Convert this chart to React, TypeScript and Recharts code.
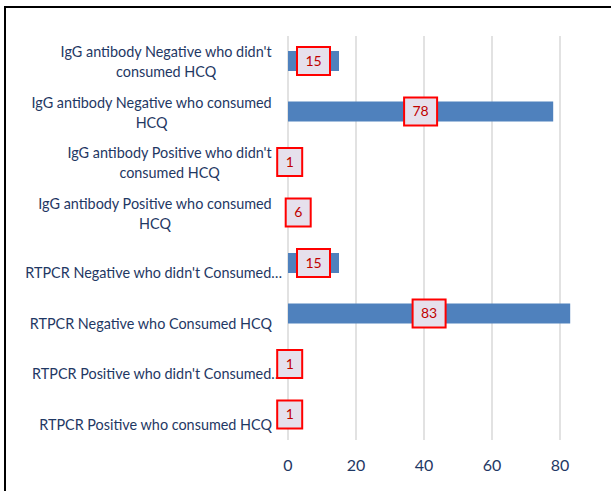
import React from 'react';
import { BarChart, Bar, XAxis, YAxis, CartesianGrid, LabelList } from 'recharts';

const categories = [
  "IgG antibody Negative who didn't consumed HCQ",
  'IgG antibody Negative who consumed HCQ',
  "IgG antibody Positive who didn't consumed HCQ",
  'IgG antibody Positive who consumed HCQ',
  "RTPCR Negative who didn't Consumed HCQ",
  'RTPCR Negative who Consumed HCQ',
  "RTPCR Positive who didn't Consumed HCQ",
  'RTPCR Positive who consumed HCQ',
];

// how each category label is shown on the axis (wrapped / cut like the original)
const categoryLines = [
  ["IgG antibody Negative who didn't", 'consumed HCQ'],
  ['IgG antibody Negative who consumed', 'HCQ'],
  ["IgG antibody Positive who didn't", 'consumed HCQ'],
  ['IgG antibody Positive who consumed', 'HCQ'],
  ["RTPCR Negative who didn't Consumed…"],
  ['RTPCR Negative who Consumed HCQ'],
  ["RTPCR Positive who didn't Consumed…"],
  ['RTPCR Positive who consumed HCQ'],
];

const counts = [15, 78, 1, 6, 15, 83, 1, 1];

const xTicks = [0, 20, 40, 60, 80];

const data = categories.map((name, i) => ({ name, count: counts[i] }));

const FONT = 'Lato, "Open Sans", sans-serif';
const NAVY = '#1F3864';
const CAT_SIZE = 14.4;

let measureCtx: CanvasRenderingContext2D | null = null;
const textWidth = (s: string) => {
  if (!measureCtx) measureCtx = document.createElement('canvas').getContext('2d');
  if (!measureCtx) return s.length * 7;
  measureCtx.font = `${CAT_SIZE}px Lato`;
  return measureCtx.measureText(s).width;
};

const CategoryTick = ({ y, payload }: any) => {
  const idx = categories.indexOf(payload.value);
  const lines = categoryLines[idx] || [payload.value];
  if (lines.length === 1) {
    const right = lines[0].endsWith('…') ? 282 : 272;
    return (
      <text x={right} y={y + 10} dy="0.35em" textAnchor="end" fill={NAVY} fontSize={CAT_SIZE} fontFamily={FONT}>
        {lines[0]}
      </text>
    );
  }
  const w = Math.max(...lines.map(textWidth));
  const cx = 272 - w / 2;
  return (
    <g>
      {lines.map((ln, i) => (
        <text key={i} x={cx} y={y - 9 + i * 20} dy="0.35em" textAnchor="middle" fill={NAVY} fontSize={CAT_SIZE} fontFamily={FONT}>
          {ln}
        </text>
      ))}
    </g>
  );
};

const ValueBox = (props: any) => {
  const { x, y, width, height, value } = props;
  const cx = x + width / 2;
  const cy = y + height / 2;
  const bw = 17 + 8 * String(value).length;
  const bh = 28;
  return (
    <g>
      <rect x={cx - bw / 2} y={cy - bh / 2} width={bw} height={bh} fill="#E6E0EC" stroke="#FF0000" strokeWidth={2} />
      <text x={cx} y={cy} dy="0.35em" textAnchor="middle" fill="#C00000" fontSize={14} fontFamily={FONT}>
        {value}
      </text>
    </g>
  );
};

export default function App() {
  return (
    <div style={{ position: 'absolute', left: 0, top: 0, width: 611, height: 491, overflow: 'hidden', background: '#fff' }}>
      <div
        style={{
          position: 'absolute',
          left: 4,
          top: 6,
          width: 700,
          height: 600,
          borderLeft: '2px solid #000',
          borderTop: '2px solid #000',
        }}
      />
      <div style={{ position: 'absolute', left: 0, top: 0 }}>
        <BarChart
          width={640}
          height={491}
          data={data}
          layout="vertical"
          margin={{ top: 36, right: 12, bottom: 0, left: 0 }}
        >
          <CartesianGrid horizontal={false} stroke="#D9D9D9" strokeWidth={1.5} />
          <XAxis
            type="number"
            domain={[0, 100]}
            ticks={xTicks}
            axisLine={false}
            tickLine={false}
            height={51}
            tickMargin={14}
            tick={{ fill: NAVY, fontSize: 16, fontFamily: FONT }}
            interval={0}
          />
          <YAxis
            type="category"
            dataKey="name"
            width={288}
            axisLine={false}
            tickLine={false}
            tick={<CategoryTick />}
            interval={0}
          />
          <Bar dataKey="count" fill="#4F81BD" barSize={20} isAnimationActive={false}>
            <LabelList dataKey="count" content={<ValueBox />} />
          </Bar>
        </BarChart>
      </div>
    </div>
  );
}
